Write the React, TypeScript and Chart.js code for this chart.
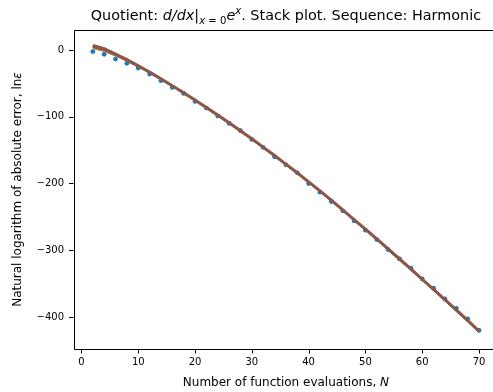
import React, { useEffect, useRef } from "react";
import { Chart, registerables } from "chart.js";

Chart.register(...registerables);

const xs = [2, 4, 6, 8, 10, 12, 14, 16, 18, 20, 22, 24, 26, 28, 30, 32, 34, 36, 38, 40, 42, 44, 46, 48, 50, 52, 54, 56, 58, 60, 62, 64, 66, 68, 70];
const dotValues = [-2.4, -6.4, -13.5, -20, -27, -36, -46, -56, -65, -77, -87, -99, -110, -121, -134, -146, -160, -172, -184, -200, -213, -227, -241, -256, -270, -284, -299, -313, -327, -343, -357, -373, -387, -403, -420];
const blueLine = [2.5, -1.5, -8.5, -16.5, -25, -34.5, -44.5, -54.5, -65, -76, -87, -98.5, -110, -122, -134, -146.5, -159, -172, -185, -198.5, -212, -226, -240.5, -255, -269.5, -284, -299, -314, -329, -344.5, -359.5, -375, -390.5, -406, -422];
const orangeLine = [3, -1, -8, -16, -24.5, -34, -44, -54.5, -65, -76, -87, -98.5, -110, -122, -134, -146.5, -159, -172, -185, -198.5, -212, -226, -240.5, -255, -269.5, -284, -299, -314, -329, -344.5, -359.5, -375, -390.5, -406, -422.5];
const greenLine = [4, 0, -7, -15, -24, -33.5, -43.5, -54, -64.5, -75.5, -86.5, -98, -109.5, -121.5, -133.5, -146, -158.5, -171.5, -184.5, -198, -211.5, -225.5, -240, -254.5, -269, -284, -299, -314, -329, -344.5, -359.5, -375, -391, -406.5, -423];
const redLine = [5, 0.5, -6.5, -14.5, -23.5, -33, -43, -53.5, -64, -75, -86, -97.5, -109, -121, -133, -145.5, -158, -171, -184, -197.5, -211, -225, -239.5, -254, -268.5, -283, -298, -313, -328, -343.5, -358.5, -374, -389.5, -405, -421];
const purpleLine = [6, 1, -6, -14, -23, -33, -43, -53.5, -64, -75, -86, -97.5, -109, -121, -133, -145.5, -158, -171, -184, -197.5, -211, -225, -239.5, -254, -268.5, -283, -298, -313, -328, -343.5, -358.5, -374, -389.5, -405, -421];
const brownLine = [7, 2, -6, -14.5, -23.5, -33, -43, -53.5, -64, -75, -86, -97.5, -109, -121, -133, -145.5, -158, -171, -184, -197.5, -211, -225, -239.5, -254, -268.5, -283, -298, -313, -328, -343.5, -358.5, -374, -389.5, -405, -421];

const xTicks = [0, 10, 20, 30, 40, 50, 60, 70];
const yTicks = [-400, -300, -200, -100, 0];
const xMin = -1.4;
const xMax = 71.76; // axis continues past the image's right edge
const xCenter = 36; // centre of the full axes range (-1.4 .. 73.4)

const FONT = "'DejaVu Sans', sans-serif";
const TICK_LEN = 4.5;

const pts = (ys: number[]) => xs.map((x, i) => ({ x, y: ys[i] }));

type Run = { t: string; italic?: boolean; sub?: boolean; sup?: boolean };
const titleRuns: Run[] = [
  { t: "Quotient: " },
  { t: "d/dx", italic: true },
  { t: "|" },
  { t: "x", italic: true, sub: true },
  { t: " = ", sub: true },
  { t: "0", sub: true },
  { t: "e", italic: true },
  { t: "x", italic: true, sup: true },
  { t: ". Stack plot. Sequence: Harmonic" },
];

const drawRuns = (ctx: CanvasRenderingContext2D, runs: Run[], cx: number, baseY: number, size: number) => {
  const fontFor = (r: Run) => {
    const s = r.sub || r.sup ? size * 0.7 : size;
    return `${r.italic ? "italic " : ""}${s}px ${FONT}`;
  };
  let total = 0;
  const widths = runs.map((r) => {
    ctx.font = fontFor(r);
    const w = ctx.measureText(r.t).width;
    total += w;
    return w;
  });
  let x = cx - total / 2;
  ctx.textAlign = "left";
  ctx.textBaseline = "alphabetic";
  runs.forEach((r, i) => {
    ctx.font = fontFor(r);
    const dy = r.sub ? size * 0.25 : r.sup ? -size * 0.4 : 0;
    ctx.fillText(r.t, x, baseY + dy);
    x += widths[i];
  });
};

const decorPlugin = {
  id: "decor",
  afterDraw(chart: any) {
    const { ctx, chartArea: a, width } = chart;
    const sx = chart.scales.x;
    const sy = chart.scales.y;
    ctx.save();
    // the right spine lies beyond the picture's edge: keep that strip blank
    ctx.fillStyle = "#fff";
    ctx.fillRect(sx.getPixelForValue(71), a.top, width, a.bottom - a.top + 1);
    ctx.strokeStyle = "#000";
    ctx.lineWidth = 1;
    ctx.beginPath();
    ctx.moveTo(width + 20, Math.round(a.top) + 0.5);
    ctx.lineTo(Math.round(a.left) + 0.5, Math.round(a.top) + 0.5);
    ctx.lineTo(Math.round(a.left) + 0.5, Math.round(a.bottom) + 0.5);
    ctx.lineTo(width + 20, Math.round(a.bottom) + 0.5);
    ctx.stroke();
    ctx.beginPath();
    xTicks.forEach((v) => {
      const px = Math.round(sx.getPixelForValue(v)) + 0.5;
      ctx.moveTo(px, a.bottom);
      ctx.lineTo(px, a.bottom + TICK_LEN);
    });
    yTicks.forEach((v) => {
      const py = Math.round(sy.getPixelForValue(v)) + 0.5;
      ctx.moveTo(a.left, py);
      ctx.lineTo(a.left - TICK_LEN, py);
    });
    ctx.stroke();
    ctx.fillStyle = "#000";
    const cx = sx.getPixelForValue(xCenter);
    drawRuns(ctx, titleRuns, cx, 20, 14.4);
    drawRuns(ctx, [{ t: "Number of function evaluations, " }, { t: "N", italic: true }], cx, 386, 12);
    ctx.translate(21, (a.top + a.bottom) / 2);
    ctx.rotate(-Math.PI / 2);
    drawRuns(ctx, [{ t: "Natural logarithm of absolute error, ln" }, { t: "ε", italic: true }], 0, 0, 12);
    ctx.restore();
  },
};

export default function App() {
  const ref = useRef<HTMLCanvasElement>(null);
  useEffect(() => {
    if (!ref.current) return;
    const lineDs = (label: string, data: number[], color: string, width: number, order: number) => ({
      label,
      data: pts(data),
      borderColor: color,
      backgroundColor: color,
      borderWidth: width,
      pointRadius: 0,
      fill: false,
      tension: 0,
      order,
    });
    const chart = new Chart(ref.current, {
      type: "line",
      data: {
        datasets: [
          lineDs("brown", brownLine, "#8c564b", 3, 0),
          lineDs("purple", purpleLine, "#9467bd", 1.5, 1),
          lineDs("red", redLine, "#d62728", 1.5, 2),
          lineDs("green", greenLine, "#2ca02c", 1.5, 3),
          lineDs("orange", orangeLine, "#ff7f0e", 1.5, 4),
          lineDs("blue", blueLine, "#1f77b4", 1.5, 5),
          {
            label: "dots",
            data: pts(dotValues),
            showLine: false,
            pointRadius: 2.4,
            pointBorderWidth: 0,
            pointBackgroundColor: "#1f77b4",
            borderColor: "#1f77b4",
            order: 6,
          } as any,
        ],
      },
      options: {
        responsive: false,
        animation: false,
        layout: { padding: { left: 0, right: 0, top: 30, bottom: 0 } },
        plugins: { legend: { display: false }, title: { display: false }, tooltip: { enabled: false } },
        scales: {
          x: {
            type: "linear",
            min: xMin,
            max: xMax,
            afterBuildTicks: (s: any) => {
              s.ticks = xTicks.map((v) => ({ value: v }));
            },
            afterFit: (s: any) => {
              s.height = 43;
              s.paddingLeft = 0;
              s.paddingRight = 0;
            },
            grid: { display: false, drawTicks: true, tickLength: TICK_LEN },
            border: { display: false },
            ticks: { color: "#000", padding: 3, font: { family: FONT, size: 10 }, maxRotation: 0, autoSkip: false },
          },
          y: {
            type: "linear",
            min: -448,
            max: 30,
            afterBuildTicks: (s: any) => {
              s.ticks = yTicks.map((v) => ({ value: v }));
            },
            afterFit: (s: any) => {
              s.width = 73.5;
            },
            grid: { display: false, drawTicks: true, tickLength: TICK_LEN },
            border: { display: false },
            ticks: {
              color: "#000",
              padding: 5,
              font: { family: FONT, size: 10 },
              autoSkip: false,
              callback: (v: any) => String(v).replace("-", "\u2212"),
            },
          },
        },
      },
      plugins: [decorPlugin],
    });
    return () => chart.destroy();
  }, []);
  return (
    <div style={{ position: "absolute", left: 0, top: 0, width: 493, height: 392, overflow: "hidden", background: "#fff" }}>
      <canvas ref={ref} width={493} height={392} style={{ width: 493, height: 392, display: "block" }} />
    </div>
  );
}
